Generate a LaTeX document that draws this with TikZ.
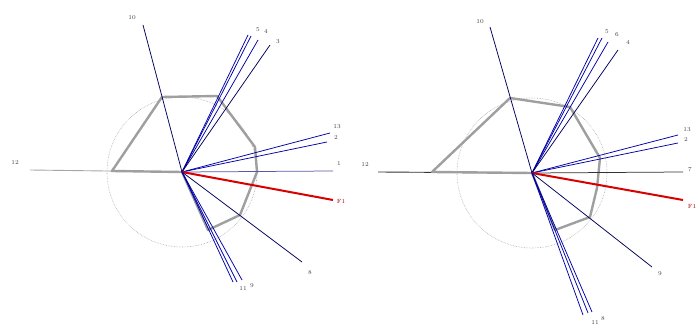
\documentclass[tikz,border=0pt]{standalone}
\usepackage{tikz}

\begin{document}
\begin{tikzpicture}[x=1pt, y=-1pt, >=stealth,
    vec/.style={line width=0.75pt, color=blue!65!black},
    dark/.style={line width=0.75pt, color=blue!35!black},
    hexa/.style={line width=2.4pt, color=gray!75, line join=round},
    force/.style={line width=2pt, color=red!85!black},
    ring/.style={gray!65, densely dotted, line width=0.6pt},
    lbl/.style={font=\fontsize{6}{6}\selectfont, text=black!75, inner sep=0.5pt}]
  \useasboundingbox (0,0) rectangle (699,331);

  % Left diagram
  \coordinate (oL) at (182,172);
  \draw[ring] (oL) circle (75pt);
  \draw[gray!70, line width=0.9pt] (oL) -- (30,170) coordinate (eL12);
  \draw[hexa] (oL) -- (112,171) -- (162,97) -- (217,96) -- (255,147)
    -- (257,172) -- (240,215) -- (208,230) -- cycle;
  \draw[dark] (oL) -- (143,25) coordinate (eL10);
  \foreach \p in {(248,35), (251,36), (258,40)}
    \draw[vec] (oL) -- \p;
  \draw[dark] (oL) -- (270,45) coordinate (eL3);
  \draw[vec] (oL) -- (330,133) coordinate (eL13);
  \draw[vec] (oL) -- (327,142) coordinate (eL2);
  \draw[dark, color=blue!30!gray] (oL) -- (333,171) coordinate (eL1);
  \draw[force] (oL) -- (333,200) coordinate (eLF);
  \draw[dark] (oL) -- (302,262) coordinate (eL8);
  \foreach \p in {(233,282), (237,282), (242,280)}
    \draw[vec] (oL) -- \p;
  \node[lbl] (nL12) at (15,163) {12};
  \node[lbl] (nL10) at (132,18) {10};
  \node[lbl] (nL5) at (258,30) {5};
  \node[lbl] (nL4) at (266,31) {4};
  \node[lbl] (nL3) at (278,42) {3};
  \node[lbl] (nL13) at (337,127) {13};
  \node[lbl] (nL2) at (336,138) {2};
  \node[lbl] (nL1) at (339,164) {1};
  \node[lbl, text=red!70!black] (nLF) at (341,201) {F1};
  \node[lbl] (nL8) at (310,273) {8};
  \node[lbl] (nL11) at (243,289) {11};
  \node[lbl] (nL9) at (252,286) {9};

  % Right diagram
  \coordinate (oR) at (532,173);
  \draw[ring] (oR) circle (75pt);
  \draw[black!80, line width=0.9pt] (oR) -- (378,172) coordinate (eR12);
  \draw[hexa] (oR) -- (432,172) -- (510,98) -- (570,107) -- (600,158)
    -- (597,188) -- (590,217) -- (555,230) -- cycle;
  \draw[dark] (oR) -- (490,27) coordinate (eR10);
  \foreach \p in {(598,38), (602,38), (608,42)}
    \draw[vec] (oR) -- \p;
  \draw[dark] (oR) -- (618,50) coordinate (eR4);
  \draw[vec] (oR) -- (678,135) coordinate (eR13);
  \draw[vec] (oR) -- (678,143) coordinate (eR2);
  \draw[dark, color=black!80] (oR) -- (683,172) coordinate (eR7);
  \draw[force] (oR) -- (683,200) coordinate (eRF);
  \draw[dark] (oR) -- (652,267) coordinate (eR9);
  \foreach \p in {(583,315), (588,313), (592,312)}
    \draw[vec] (oR) -- \p;
  \node[lbl] (nR12) at (365,165) {12};
  \node[lbl] (nR10) at (480,22) {10};
  \node[lbl] (nR5) at (607,32) {5};
  \node[lbl] (nR6) at (617,35) {6};
  \node[lbl] (nR4) at (628,42) {4};
  \node[lbl] (nR13) at (687,130) {13};
  \node[lbl] (nR2) at (686,140) {2};
  \node[lbl] (nR7) at (690,170) {7};
  \node[lbl, text=red!70!black] (nRF) at (692,206) {F1};
  \node[lbl] (nR9) at (660,274) {9};
  \node[lbl] (nR11) at (595,323) {11};
  \node[lbl] (nR8) at (603,319) {8};
\end{tikzpicture}
\end{document}
